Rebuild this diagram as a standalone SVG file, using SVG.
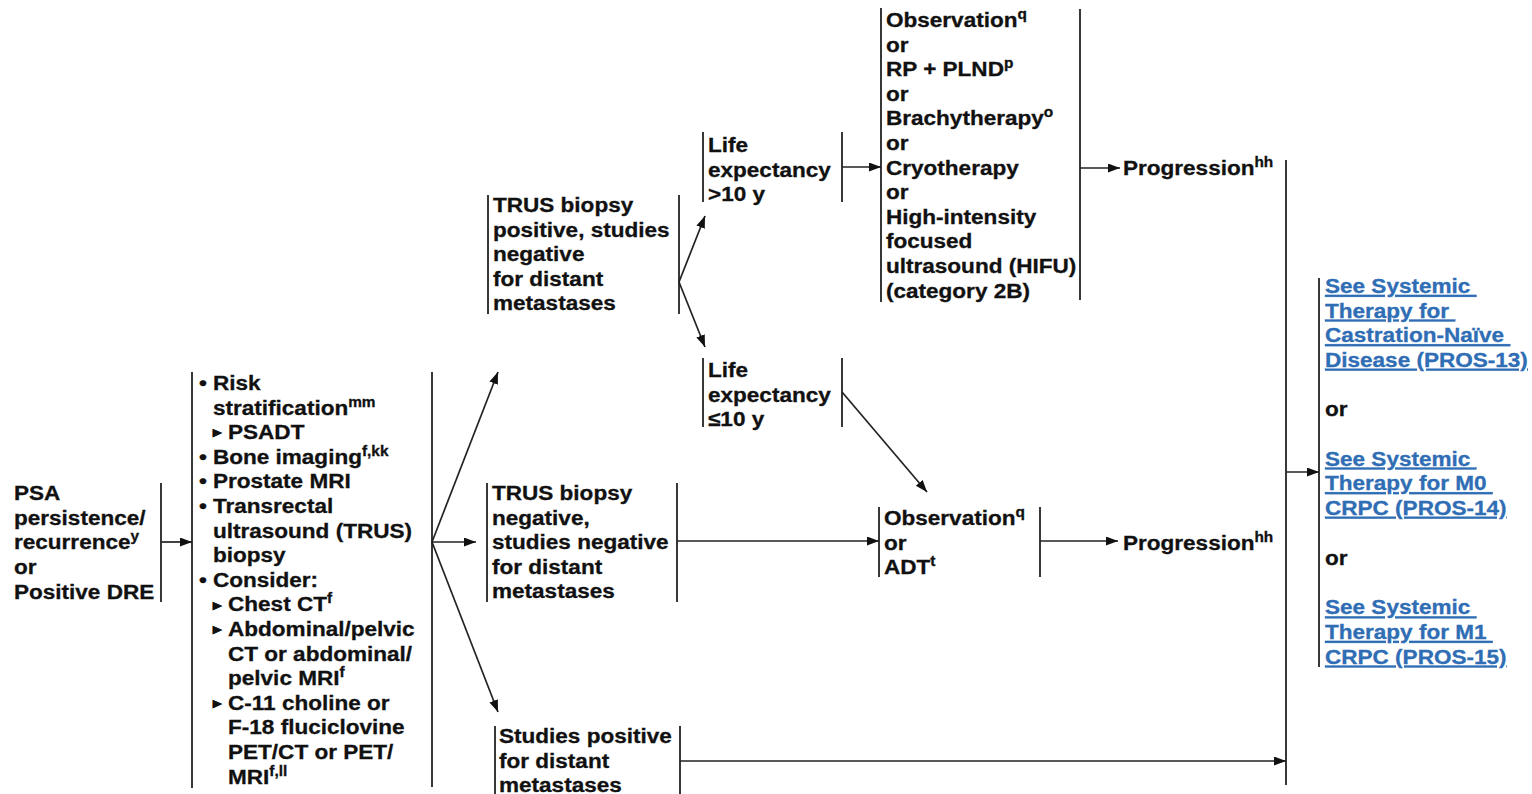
<svg xmlns="http://www.w3.org/2000/svg" width="1532" height="794" viewBox="0 0 1532 794">
<style>
text{font-family:"Liberation Sans",Arial,sans-serif;font-weight:bold;font-size:20.5px;fill:#111;stroke:#111;stroke-width:0.3}
.sup{font-size:14px}
.tri{font-size:15px}
.lk{fill:#2f6db4;stroke:#2f6db4;text-decoration:underline}
.bar{stroke:#222;stroke-width:1.8;fill:none}
.cn line{stroke:#222;stroke-width:1.7;fill:none;marker-end:url(#ah)}
</style>
<defs>
<marker id="ah" markerUnits="userSpaceOnUse" markerWidth="13" markerHeight="10" refX="12" refY="4.5" orient="auto">
<path d="M0,0 L12,4.5 L0,9 z" fill="#111"/>
</marker>
</defs>
<rect width="1532" height="794" fill="#fff"/>

<g id="psa">
<line class="bar" x1="161" y1="483" x2="161" y2="602"/>
<g transform="translate(14 0) scale(1.1 1)">
<text x="0" y="500">PSA</text>
<text x="0" y="524.7">persistence/</text>
<text x="0" y="549.4">recurrence<tspan class="sup" dy="-8">y</tspan></text>
<text x="0" y="574.1">or</text>
<text x="0" y="598.8">Positive DRE</text>
</g>
</g>

<g id="workup">
<line class="bar" x1="192" y1="372" x2="192" y2="788"/>
<line class="bar" x1="432" y1="372" x2="432" y2="787"/>
<g transform="translate(199 0) scale(1.1 1)">
<text x="0" y="390">•</text><text x="12.7" y="390">Risk</text>
<text x="12.7" y="414.6">stratification<tspan class="sup" dy="-8">mm</tspan></text>
<text class="tri" x="12.7" y="437.5">▸</text><text x="26.4" y="439.2">PSADT</text>
<text x="0" y="463.8">•</text><text x="12.7" y="463.8">Bone imaging<tspan class="sup" dy="-8">f,kk</tspan></text>
<text x="0" y="488.4">•</text><text x="12.7" y="488.4">Prostate MRI</text>
<text x="0" y="513">•</text><text x="12.7" y="513">Transrectal</text>
<text x="12.7" y="537.6">ultrasound (TRUS)</text>
<text x="12.7" y="562.2">biopsy</text>
<text x="0" y="586.8">•</text><text x="12.7" y="586.8">Consider:</text>
<text class="tri" x="12.7" y="609.7">▸</text><text x="26.4" y="611.4">Chest CT<tspan class="sup" dy="-8">f</tspan></text>
<text class="tri" x="12.7" y="634.3">▸</text><text x="26.4" y="636">Abdominal/pelvic</text>
<text x="26.4" y="660.6">CT or abdominal/</text>
<text x="26.4" y="685.2">pelvic MRI<tspan class="sup" dy="-8">f</tspan></text>
<text class="tri" x="12.7" y="708.1">▸</text><text x="26.4" y="709.8">C-11 choline or</text>
<text x="26.4" y="734.4">F-18 fluciclovine</text>
<text x="26.4" y="759">PET/CT or PET/</text>
<text x="26.4" y="783.6">MRI<tspan class="sup" dy="-8">f,ll</tspan></text>
</g>
</g>

<g id="trus-pos">
<line class="bar" x1="488" y1="195" x2="488" y2="314"/>
<line class="bar" x1="679" y1="195" x2="679" y2="314"/>
<g transform="translate(493 0) scale(1.1 1)">
<text x="0" y="212">TRUS biopsy</text>
<text x="0" y="236.6">positive, studies</text>
<text x="0" y="261.2">negative</text>
<text x="0" y="285.8">for distant</text>
<text x="0" y="310.4">metastases</text>
</g>
</g>

<g id="life-gt10">
<line class="bar" x1="703" y1="132" x2="703" y2="202"/>
<line class="bar" x1="842" y1="132" x2="842" y2="202"/>
<g transform="translate(708 0) scale(1.1 1)">
<text x="0" y="152">Life</text>
<text x="0" y="176.6">expectancy</text>
<text x="0" y="201">&gt;10 y</text>
</g>
</g>

<g id="life-le10">
<line class="bar" x1="703" y1="358" x2="703" y2="427"/>
<line class="bar" x1="842" y1="358" x2="842" y2="427"/>
<g transform="translate(708 0) scale(1.1 1)">
<text x="0" y="377">Life</text>
<text x="0" y="401.6">expectancy</text>
<text x="0" y="426">≤10 y</text>
</g>
</g>

<g id="treatment">
<line class="bar" x1="881" y1="8" x2="881" y2="302"/>
<line class="bar" x1="1080" y1="9" x2="1080" y2="300"/>
<g transform="translate(886 0) scale(1.1 1)">
<text x="0" y="27">Observation<tspan class="sup" dy="-8">q</tspan></text>
<text x="0" y="51.6">or</text>
<text x="0" y="76.2">RP + PLND<tspan class="sup" dy="-8">p</tspan></text>
<text x="0" y="100.8">or</text>
<text x="0" y="125.4">Brachytherapy<tspan class="sup" dy="-8">o</tspan></text>
<text x="0" y="150">or</text>
<text x="0" y="174.6">Cryotherapy</text>
<text x="0" y="199.2">or</text>
<text x="0" y="223.8">High-intensity</text>
<text x="0" y="248.4">focused</text>
<text x="0" y="273">ultrasound (HIFU)</text>
<text x="0" y="297.6">(category 2B)</text>
</g>
</g>

<g id="progression1">
<g transform="translate(1123 0) scale(1.1 1)">
<text x="0" y="175">Progression<tspan class="sup" dy="-8">hh</tspan></text>
</g>
</g>

<g id="trus-neg">
<line class="bar" x1="487" y1="483" x2="487" y2="602"/>
<line class="bar" x1="677" y1="483" x2="677" y2="602"/>
<g transform="translate(492 0) scale(1.1 1)">
<text x="0" y="500">TRUS biopsy</text>
<text x="0" y="524.6">negative,</text>
<text x="0" y="549.2">studies negative</text>
<text x="0" y="573.8">for distant</text>
<text x="0" y="598.4">metastases</text>
</g>
</g>

<g id="obs-adt">
<line class="bar" x1="879" y1="507" x2="879" y2="577"/>
<line class="bar" x1="1040" y1="507" x2="1040" y2="577"/>
<g transform="translate(884 0) scale(1.1 1)">
<text x="0" y="525">Observation<tspan class="sup" dy="-8">q</tspan></text>
<text x="0" y="549.6">or</text>
<text x="0" y="574.2">ADT<tspan class="sup" dy="-8">t</tspan></text>
</g>
</g>

<g id="progression2">
<g transform="translate(1123 0) scale(1.1 1)">
<text x="0" y="550">Progression<tspan class="sup" dy="-8">hh</tspan></text>
</g>
</g>

<g id="studies-pos">
<line class="bar" x1="495" y1="726" x2="495" y2="794"/>
<line class="bar" x1="680" y1="726" x2="680" y2="794"/>
<g transform="translate(499 0) scale(1.1 1)">
<text x="0" y="743">Studies positive</text>
<text x="0" y="767.6">for distant</text>
<text x="0" y="792.2">metastases</text>
</g>
</g>

<g id="collector">
<line class="bar" x1="1286" y1="160" x2="1286" y2="785"/>
</g>

<g id="systemic">
<line class="bar" x1="1319" y1="278" x2="1319" y2="667"/>
<g transform="translate(1325 0) scale(1.1 1)">
<text class="lk" x="0" y="293">See Systemic&#160;</text>
<text class="lk" x="0" y="317.6">Therapy for&#160;</text>
<text class="lk" x="0" y="342.2">Castration-Naïve&#160;</text>
<text class="lk" x="0" y="366.8">Disease (PROS-13)</text>
<text x="0" y="416">or</text>
<text class="lk" x="0" y="465.6">See Systemic&#160;</text>
<text class="lk" x="0" y="490.2">Therapy for M0&#160;</text>
<text class="lk" x="0" y="514.8">CRPC (PROS-14)</text>
<text x="0" y="564.8">or</text>
<text class="lk" x="0" y="614.4">See Systemic&#160;</text>
<text class="lk" x="0" y="639">Therapy for M1&#160;</text>
<text class="lk" x="0" y="663.6">CRPC (PROS-15)</text>
</g>
</g>

<g id="connectors" class="cn">
<line x1="161" y1="542" x2="192" y2="542"/>
<line x1="432" y1="542" x2="498" y2="372"/>
<line x1="432" y1="542" x2="476" y2="542"/>
<line x1="432" y1="542" x2="498" y2="712"/>
<line x1="679" y1="282" x2="705" y2="216"/>
<line x1="679" y1="282" x2="705" y2="347"/>
<line x1="842" y1="167" x2="881" y2="167"/>
<line x1="842" y1="392" x2="927" y2="492"/>
<line x1="677" y1="541" x2="879" y2="541"/>
<line x1="1080" y1="168" x2="1120" y2="168"/>
<line x1="1040" y1="541" x2="1118" y2="541"/>
<line x1="680" y1="761" x2="1286" y2="761"/>
<line x1="1286" y1="472" x2="1319" y2="472"/>
</g>
</svg>
